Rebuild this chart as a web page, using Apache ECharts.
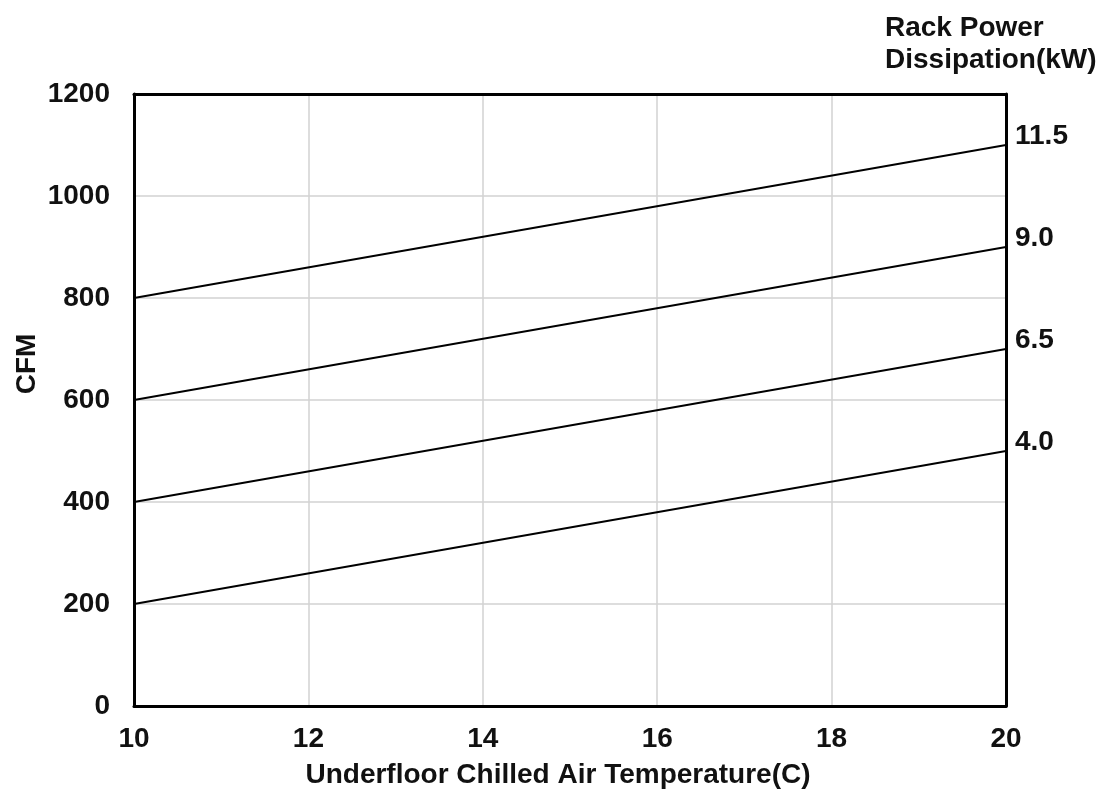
<!DOCTYPE html>
<html>
<head>
<meta charset="utf-8">
<script src="https://cdn.jsdelivr.net/npm/echarts@6/dist/echarts.min.js"></script>
<style>
html,body{margin:0;padding:0;background:#fff;}
#chart{width:1105px;height:798px;}
</style>
</head>
<body>
<div id="chart"></div>
<script>
const temps = [10, 20];
const powerLabels = ['4.0', '6.5', '9.0', '11.5'];
const cfm40 = [200, 500];
const cfm65 = [400, 700];
const cfm90 = [600, 900];
const cfm115 = [800, 1100];
const xTicks = [10, 12, 14, 16, 18, 20];
const yTicks = [0, 200, 400, 600, 800, 1000, 1200];

const FONT = '"Liberation Sans", Arial, sans-serif';
const TXT = '#111';
const FS = 28;
const seriesValues = [cfm40, cfm65, cfm90, cfm115];
const border = {show: true, onZero: false, lineStyle: {color: '#000', width: 3}};
const xMin = xTicks[0], xMax = xTicks[xTicks.length - 1];
const yMin = yTicks[0], yMax = yTicks[yTicks.length - 1];

const chart = echarts.init(document.getElementById('chart'), null, {renderer: 'canvas'});
chart.setOption({
  animation: false,
  backgroundColor: '#fff',
  title: {
    text: 'Rack Power\nDissipation(kW)',
    left: 880, top: 7,
    textStyle: {fontFamily: FONT, fontWeight: 'bold', fontSize: FS, color: TXT, lineHeight: 32}
  },
  graphic: [{
    type: 'text', x: 27, y: 364, rotation: Math.PI / 2,
    style: {text: 'CFM', fontFamily: FONT, fontWeight: 'bold', fontSize: FS, fill: TXT,
            textAlign: 'center', textVerticalAlign: 'middle'}
  }],
  grid: {left: 134, right: 99, top: 94, bottom: 92, containLabel: false},
  xAxis: [{
    type: 'value', min: xMin, max: xMax, interval: 2, position: 'bottom',
    name: 'Underfloor Chilled Air Temperature(C)', nameLocation: 'middle', nameGap: 55,
    nameTextStyle: {fontFamily: FONT, fontWeight: 'bold', fontSize: FS, color: TXT, padding: [0, 24, 0, 0]},
    axisLine: border, axisTick: {show: false},
    axisLabel: {fontFamily: FONT, fontWeight: 'bold', fontSize: FS, color: TXT, margin: 19},
    splitLine: {show: true, lineStyle: {color: '#d2d2d2', width: 1.5}}
  }, {
    type: 'value', min: xMin, max: xMax, interval: 2, position: 'top',
    axisLine: border, axisTick: {show: false}, axisLabel: {show: false}, splitLine: {show: false}
  }],
  yAxis: [{
    type: 'value', min: yMin, max: yMax, interval: 200, position: 'left',
    axisLine: border, axisTick: {show: false},
    axisLabel: {fontFamily: FONT, fontWeight: 'bold', fontSize: FS, color: TXT, margin: 24,
                formatter: v => String(v)},
    splitLine: {show: true, lineStyle: {color: '#d2d2d2', width: 1.5}}
  }, {
    type: 'value', min: yMin, max: yMax, interval: 200, position: 'right',
    axisLine: border, axisTick: {show: false}, axisLabel: {show: false}, splitLine: {show: false}
  }],
  series: powerLabels.map((name, i) => ({
    name: name, type: 'line', symbol: 'none',
    data: temps.map((t, j) => [t, seriesValues[i][j]]),
    lineStyle: {color: '#000', width: 1.8},
    endLabel: {show: true, formatter: '{a}', offset: [1, -9],
      fontFamily: FONT, fontWeight: 'bold', fontSize: FS, color: TXT},
    z: 3
  }))
});
</script>
</body>
</html>
